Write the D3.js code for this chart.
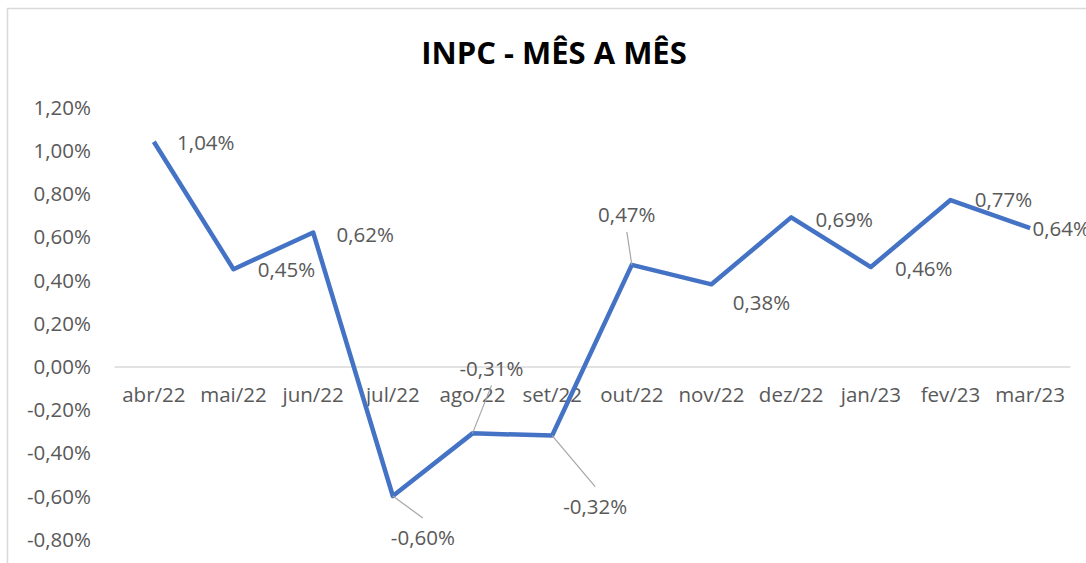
<!DOCTYPE html>
<html>
<head>
<meta charset="utf-8">
<script src="https://cdn.jsdelivr.net/npm/d3@7"></script>
<style>
  body { margin: 0; background: #fff; }
  svg text { font-family: "Open Sans", "Noto Sans", sans-serif; fill: #595959; }
</style>
</head>
<body>
<svg id="chart"></svg>
<script>
// data
var months = ["abr/22", "mai/22", "jun/22", "jul/22", "ago/22", "set/22",
              "out/22", "nov/22", "dez/22", "jan/23", "fev/23", "mar/23"];
var inpc = [1.04, 0.45, 0.62, -0.60, -0.31, -0.32, 0.47, 0.38, 0.69, 0.46, 0.77, 0.64];
var yTicks = [1.2, 1.0, 0.8, 0.6, 0.4, 0.2, 0, -0.2, -0.4, -0.6, -0.8];

// where each data label sits relative to its point (dx, dy), leader = draw a line
var labelPos = [
  [52, 1, false], [53, 1, false], [52, 2, false], [30, 42, true],
  [19, -65, true], [43, 71, true], [-5, -50, true], [50, 19, false],
  [53, 2, false], [53, 2, false], [53, 0, false], [31, 1, false]
];

var svgWidth = 1086, svgHeight = 563;
var svg = d3.select("#chart").attr("width", svgWidth).attr("height", svgHeight);

// chart area border (cropped at right / bottom)
svg.append("path")
    .attr("d", "M7.5," + svgHeight + "V8.5H" + svgWidth)
    .attr("fill", "none")
    .attr("stroke", "#d9d9d9")
    .attr("stroke-width", 1.5);

var x = d3.scaleBand().domain(months).range([114, 1070]);
var y = d3.scaleLinear().domain([-0.8, 1.2]).range([539.2, 107.2]);

function pct(v) {
  return d3.format(".2f")(v).replace(".", ",").replace("−", "-") + "%";
}

svg.append("text")
    .attr("x", 554)
    .attr("y", 64)
    .attr("text-anchor", "middle")
    .style("font-size", "31px")
    .style("font-weight", "bold")
    .style("fill", "#000")
    .text("INPC - MÊS A MÊS");

// y axis (labels only)
var yAxis = svg.append("g")
    .attr("transform", "translate(91,0)")
    .call(d3.axisLeft(y).tickValues(yTicks).tickSize(0).tickPadding(0).tickFormat(pct));
yAxis.select(".domain").remove();
yAxis.selectAll("text").style("font-size", "20.5px").attr("dy", "0.35em");

// zero line + month labels
var xAxis = svg.append("g")
    .attr("transform", "translate(0," + y(0) + ")")
    .call(d3.axisBottom(x).tickSize(0).tickPadding(21));
xAxis.select(".domain").attr("stroke", "#d9d9d9").attr("stroke-width", 1.5);
xAxis.selectAll("text").style("font-size", "20.5px");

var cx = function(i) { return x(months[i]) + x.bandwidth() / 2; };

var line = d3.line()
    .x(function(d, i) { return cx(i); })
    .y(function(d) { return y(d); });

svg.append("path")
    .datum(inpc)
    .attr("fill", "none")
    .attr("stroke", "#4472C4")
    .attr("stroke-width", 4.5)
    .attr("stroke-linejoin", "round")
    .attr("d", line);

// leader lines
inpc.forEach(function(v, i) {
  var p = labelPos[i];
  if (!p[2]) return;
  var x0 = cx(i), y0 = y(v);
  var x1 = x0 + p[0], y1 = y0 + p[1] + (p[1] > 0 ? -20 : 17);
  svg.append("line")
      .attr("x1", x0).attr("y1", y0)
      .attr("x2", x1).attr("y2", y1)
      .attr("stroke", "#a6a6a6")
      .attr("stroke-width", 1.2);
});

svg.append("g").selectAll("text")
    .data(inpc)
    .enter().append("text")
    .attr("x", function(d, i) { return cx(i) + labelPos[i][0]; })
    .attr("y", function(d, i) { return y(d) + labelPos[i][1]; })
    .attr("dy", "0.35em")
    .attr("text-anchor", "middle")
    .style("font-size", "20.5px")
    .text(pct);
</script>
</body>
</html>
